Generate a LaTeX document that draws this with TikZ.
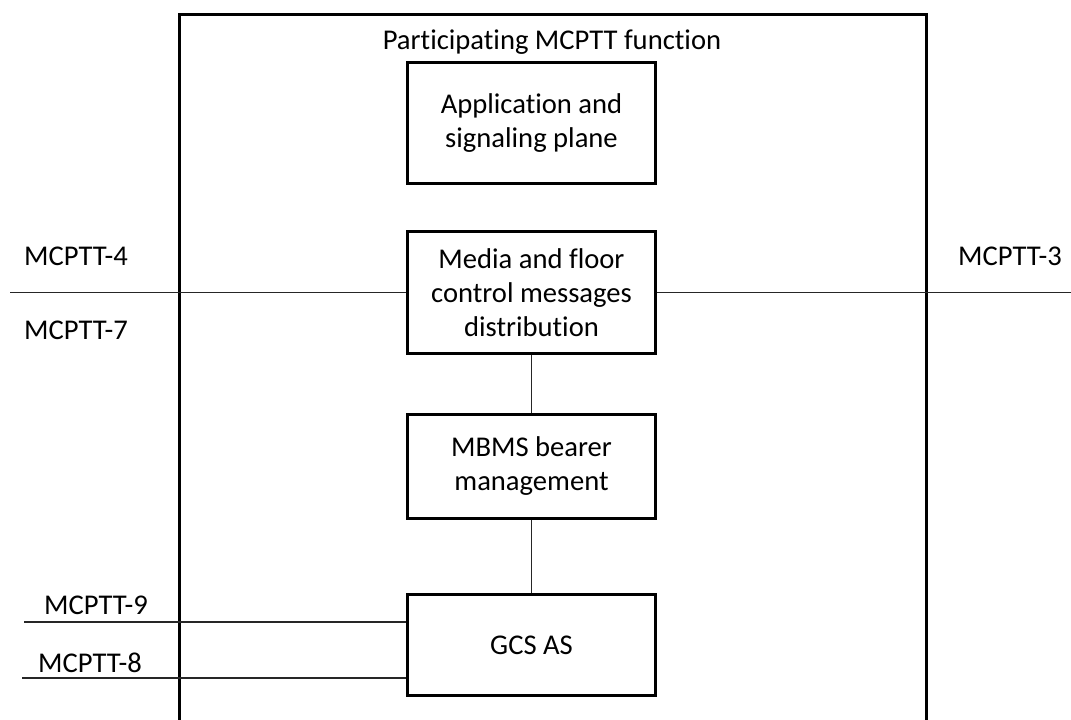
\documentclass[tikz,border=0pt]{standalone}
\usepackage{fontspec}
\setmainfont{Carlito}[RawFeature=-liga]
\begin{document}
\begin{tikzpicture}[x=1pt,y=-1pt,
    every node/.style={font=\fontsize{28.6}{34}\selectfont},
    blk/.style={draw,line width=3pt,minimum width=248pt,inner sep=0pt,align=center},
    link/.style={line width=1.3pt,black!85}]
  \useasboundingbox (0,0) rectangle (1071,720);
  \draw[line width=3pt] (179,722) -- (179,14) -- (926,14) -- (926,722);
  \draw
    (552,42) node (title){Participating MCPTT function}
    (531.5,123) node[blk,minimum height=121pt] (asp){Application and\\signaling plane}
    (531.5,292.5) node[blk,minimum height=122pt] (media){Media and floor\\control messages\\distribution}
    (531.5,466.5) node[blk,minimum height=104pt] (mbms){MBMS bearer\\management}
    (531.5,645) node[blk,minimum height=101pt] (gcs){GCS AS};
  \draw
    (76,256) node (l4){MCPTT-4}
    (76,330) node (l7){MCPTT-7}
    (1010,256) node (l3){MCPTT-3}
    (96,605) node (l9){MCPTT-9}
    (90,663) node (l8){MCPTT-8};
  \coordinate (e4) at (10,292.5);
  \coordinate (e3) at (1071,292.5);
  \coordinate (e9) at (24,622);
  \coordinate (e8) at (22,678);
  \begin{scope}[link]
    \draw (e4) to (media.west);
    \draw (media.east) to (e3);
    \draw (media) to (mbms);
    \draw (mbms) to (gcs);
    \draw (e9) to (e9 -| gcs.west);
    \draw (e8) to (e8 -| gcs.west);
  \end{scope}
\end{tikzpicture}
\end{document}
